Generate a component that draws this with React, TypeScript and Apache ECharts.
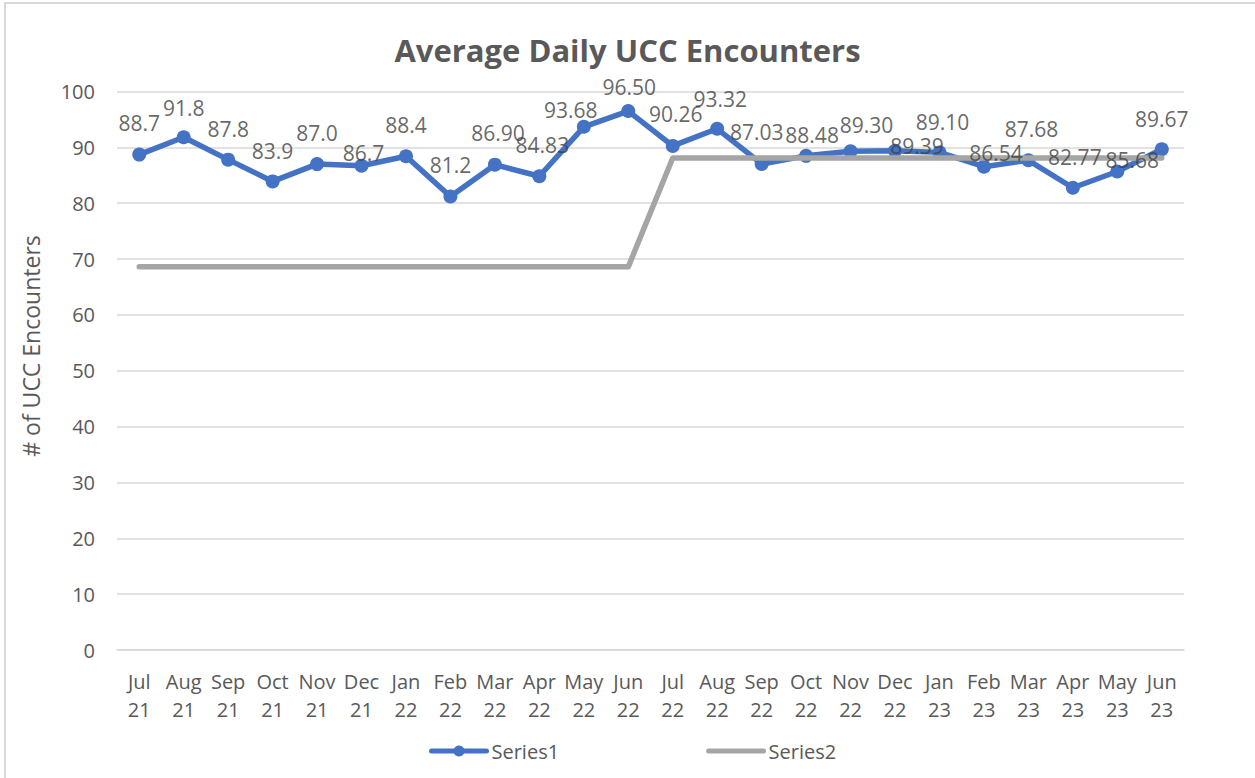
import React, { useEffect, useRef } from "react";
import * as echarts from "echarts";

const categories = [
  "Jul 21", "Aug 21", "Sep 21", "Oct 21", "Nov 21", "Dec 21",
  "Jan 22", "Feb 22", "Mar 22", "Apr 22", "May 22", "Jun 22",
  "Jul 22", "Aug 22", "Sep 22", "Oct 22", "Nov 22", "Dec 22",
  "Jan 23", "Feb 23", "Mar 23", "Apr 23", "May 23", "Jun 23",
];

const series1 = [
  88.7, 91.8, 87.8, 83.9, 87.0, 86.7, 88.4, 81.2, 86.9, 84.83, 93.68, 96.5,
  90.26, 93.32, 87.03, 88.48, 89.3, 89.39, 89.1, 86.54, 87.68, 82.77, 85.68, 89.67,
];

const series1Decimals = [
  1, 1, 1, 1, 1, 1, 1, 1, 2, 2, 2, 2,
  2, 2, 2, 2, 2, 2, 2, 2, 2, 2, 2, 2,
];

const series2 = [
  68.6, 68.6, 68.6, 68.6, 68.6, 68.6, 68.6, 68.6, 68.6, 68.6, 68.6, 68.6,
  88.1, 88.1, 88.1, 88.1, 88.1, 88.1, 88.1, 88.1, 88.1, 88.1, 88.1, 88.1,
];

const yTicks = { min: 0, max: 100, interval: 10 };

// label nudges (pixels, relative to the point)
const labelDx = [0, 0, 0, 0, 0, 2, 0, 0, 3, 3, -13, 1, 3, 3, -5, 6, 16, 22, 3, 12, 3, 2, 15, 0];
const labelDy = [-32, -29, -31, -30, -31, -13, -31, -31, -32, -31, -17, -24, -32, -30, -32, -21, -26, -5, -30, -14, -31, -31, -11, -30];

const FONT = "'Open Sans', 'Noto Sans', sans-serif";
const BLUE = "#4472c4";
const GRAY = "#a5a5a5";

export default function App() {
  const ref = useRef<HTMLDivElement>(null);

  useEffect(() => {
    document.body.style.margin = "0";
    if (!ref.current) return;
    const chart = echarts.init(ref.current, undefined, { renderer: "svg" });
    chart.setOption({
      animation: false,
      backgroundColor: "#ffffff",
      textStyle: { fontFamily: FONT },
      title: {
        text: "Average Daily UCC Encounters",
        left: "center",
        top: 25,
        textStyle: {
          fontFamily: FONT,
          fontSize: 31,
          fontWeight: "bold",
          color: "#595959",
          lineHeight: 40,
        },
      },
      grid: { left: 117, right: 71, top: 91.5, bottom: 128 },
      legend: {
        data: [
          { name: "Series1", lineStyle: { width: 5, cap: "round" } },
          {
            name: "Series2",
            itemStyle: { color: "transparent", borderWidth: 0, opacity: 0 },
            lineStyle: { width: 5, cap: "round", color: GRAY },
          },
        ],
        left: 424,
        top: 736,
        itemWidth: 55,
        itemHeight: 14,
        itemGap: 147,
        textStyle: { fontFamily: FONT, fontSize: 20, color: "#595959" },
      },
      xAxis: {
        type: "category",
        data: categories,
        boundaryGap: true,
        axisLine: { show: true, lineStyle: { color: "#d9d9d9", width: 1.5 } },
        axisTick: { show: false },
        axisLabel: {
          interval: 0,
          margin: 17,
          fontFamily: FONT,
          fontSize: 20,
          lineHeight: 28,
          color: "#595959",
          formatter: (v: string) => v.replace(" ", "\n"),
        },
        splitLine: { show: false },
      },
      yAxis: {
        type: "value",
        min: yTicks.min,
        max: yTicks.max,
        interval: yTicks.interval,
        axisLine: { show: false },
        axisTick: { show: false },
        axisLabel: { margin: 22, fontFamily: FONT, fontSize: 20, color: "#595959" },
        splitLine: { show: true, lineStyle: { color: "#d9d9d9", width: 1.5 } },
      },
      graphic: [
        {
          type: "text",
          x: 31,
          y: 346,
          rotation: Math.PI / 2,
          style: {
            text: "# of UCC Encounters",
            fontFamily: FONT,
            fontSize: 23,
            fill: "#595959",
            align: "center",
            verticalAlign: "middle",
          },
        },
      ],
      series: [
        {
          name: "Series1",
          type: "line",
          data: series1,
          z: 2,
          symbol: "circle",
          symbolSize: 14,
          showSymbol: true,
          color: BLUE,
          itemStyle: { color: BLUE },
          lineStyle: { color: BLUE, width: 5.5, cap: "round", join: "round" },
          label: { show: false },
        },
        {
          name: "Series2",
          type: "line",
          data: series2,
          z: 3,
          symbol: "none",
          color: GRAY,
          itemStyle: { color: GRAY },
          lineStyle: { color: GRAY, width: 5.5, cap: "round", join: "round" },
        },
        {
          name: "labels",
          type: "scatter",
          data: series1.map((v, i) => ({
            value: v,
            label: { offset: [labelDx[i], labelDy[i]] },
          })),
          z: 10,
          symbolSize: 1,
          itemStyle: { color: "rgba(0,0,0,0)" },
          silent: true,
          label: {
            show: true,
            position: "inside",
            fontFamily: FONT,
            fontSize: 21,
            color: "#404040",
            formatter: (p: any) => Number(p.value).toFixed(series1Decimals[p.dataIndex]),
          },
        },
      ],
    });
    return () => chart.dispose();
  }, []);

  return (
    <div style={{ position: "relative", width: 1255, height: 778, overflow: "hidden", background: "#fff" }}>
      <div ref={ref} style={{ position: "absolute", left: 0, top: 0, width: 1255, height: 778 }} />
      <div
        style={{
          position: "absolute",
          left: 4,
          top: 2,
          width: 1270,
          height: 800,
          border: "2px solid #d9d9d9",
          pointerEvents: "none",
        }}
      />
    </div>
  );
}
